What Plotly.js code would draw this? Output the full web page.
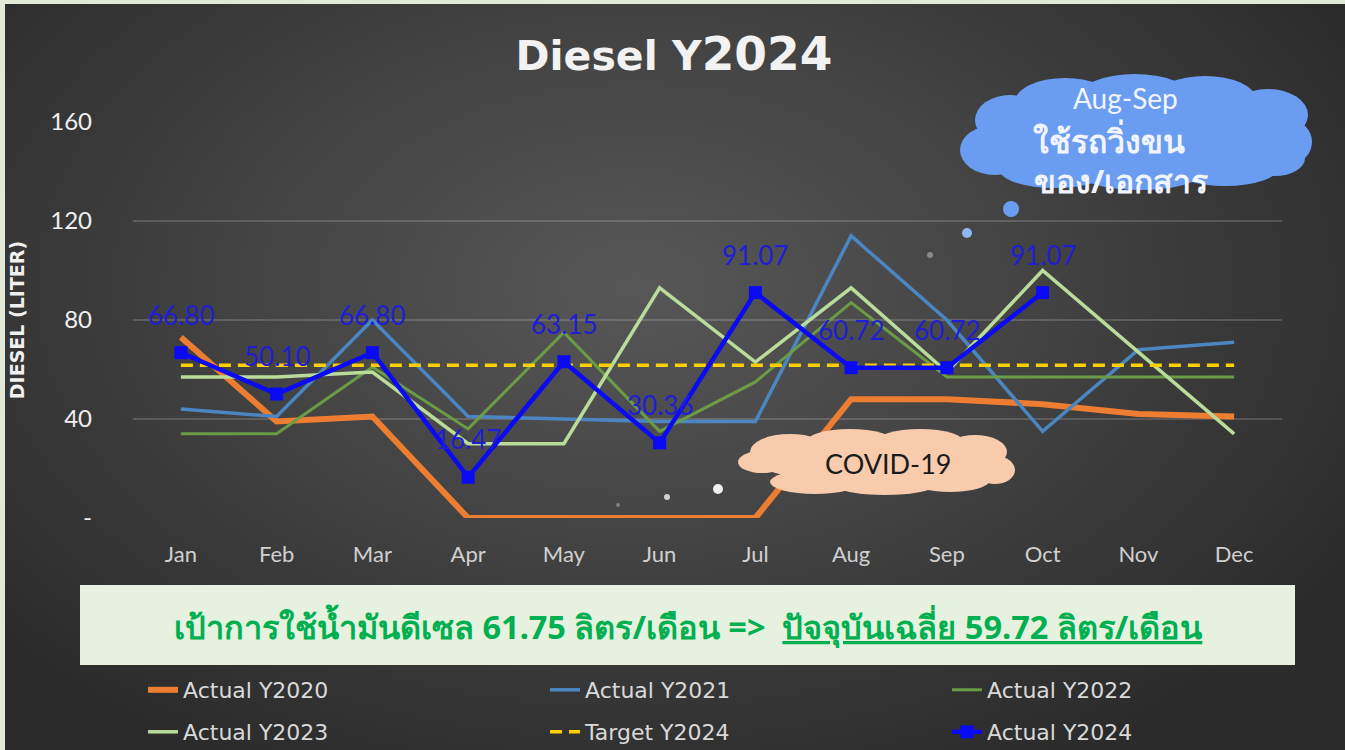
<!DOCTYPE html>
<html><head><meta charset="utf-8">
<script src="https://cdn.plot.ly/plotly-3.0.1.min.js"></script>
<style>
html,body{margin:0;padding:0;width:1345px;height:750px;overflow:hidden;background:#e3e9d7;}
#bg{position:absolute;left:5px;top:4px;width:1340px;height:746px;background:radial-gradient(ellipse 62% 72% at 47% 38%, #575757 0%, #444444 45%, #2b2b2b 100%);}
#chart{position:absolute;left:0;top:0;width:1345px;height:750px;}
</style></head><body><div id="bg"></div><div id="chart"></div>
<script>
const months = ['Jan','Feb','Mar','Apr','May','Jun','Jul','Aug','Sep','Oct','Nov','Dec'];
const actual2020 = [73, 39, 41, 0, 0, 0, 0, 48, 48, 46, 42, 41];
const actual2021 = [44, 41, 80, 41, 40, 39, 39, 114, 80, 35, 68, 71];
const actual2022 = [34, 34, 61, 36, 75, 35, 55, 87, 57, 57, 57, 57];
const actual2023 = [57, 57, 59, 30, 30, 93, 63, 93, 59, 100, 67, 34];
const target2024 = [61.75, 61.75, 61.75, 61.75, 61.75, 61.75, 61.75, 61.75, 61.75, 61.75, 61.75, 61.75];
const actual2024 = [66.80, 50.10, 66.80, 16.47, 63.15, 30.36, 91.07, 60.72, 60.72, 91.07, null, null];
const yTickVals = [0, 40, 80, 120, 160];
const yTickText = ['-', '40', '80', '120', '160'];

const L = 133, R = 1282, T = 122, B = 518, W = 1345, H = 750;
const px = X => (X - L) / (R - L);
const py = Y => (B - Y) / (B - T);

const legFont = {family: 'DejaVu Sans', size: 22, color: '#d9d9d9'};
const traces = [
  {name: 'Actual Y2020', x: months, y: actual2020, mode: 'lines', line: {color: '#ed7d31', width: 6}, legend: 'legend'},
  {name: 'Actual Y2021', x: months, y: actual2021, mode: 'lines', line: {color: '#4a86c2', width: 3.5}, legend: 'legend'},
  {name: 'Actual Y2022', x: months, y: actual2022, mode: 'lines', line: {color: '#6a9c45', width: 3}, legend: 'legend', legendwidth: 170},
  {name: 'Actual Y2023', x: months, y: actual2023, mode: 'lines', line: {color: '#b9dc9a', width: 3.5}, legend: 'legend2'},
  {name: 'Target Y2024', x: months, y: target2024, mode: 'lines', line: {color: '#ffd000', width: 3.5, dash: '12px,7px'}, legend: 'legend2'},
  {name: 'Actual Y2024', x: months, y: actual2024, mode: 'lines+markers', line: {color: '#0a0af5', width: 4.5},
   marker: {symbol: 'square', size: 13, color: '#0a0af5'}, legend: 'legend2', legendwidth: 170}
];

const shapes = [];
function ell(cx, cy, rx, ry, color) {
  shapes.push({type: 'circle', xref: 'paper', yref: 'paper', layer: 'above',
    x0: px(cx - rx), x1: px(cx + rx), y0: py(cy + ry), y1: py(cy - ry),
    fillcolor: color, line: {width: 0}});
}
// banner
shapes.push({type: 'rect', xref: 'paper', yref: 'paper', layer: 'above',
  x0: px(80), x1: px(1295), y0: py(665), y1: py(585), fillcolor: '#e6f2df', line: {width: 0}});
// blue cloud
const bc = '#6a9df2';
[[1136,140,165,38],[1010,120,35,25],[1065,102,50,24],[1135,96,55,22],[1205,98,50,22],[1268,115,40,26],
 [1290,142,22,22],[995,150,35,25],[1055,170,55,18],[1140,174,60,16],[1225,166,55,20],[1275,158,30,18]]
 .forEach(e => ell(e[0], e[1], e[2], e[3], bc));
ell(1011, 209, 8, 8, bc);
ell(967, 233, 5, 5, '#8fb5f0');
ell(930, 255, 3, 3, '#8a8a8a');
// covid cloud
const cc = '#f8cbad';
[[878,462,118,22],[790,452,40,18],[850,443,45,14],[920,443,45,14],[975,452,32,17],[995,470,20,14],
 [762,462,24,11],[815,482,45,12],[885,485,50,10],[950,480,40,12]]
 .forEach(e => ell(e[0], e[1], e[2], e[3], cc));
ell(718, 489, 5, 5, '#f0f0f0');
ell(667, 497, 3, 3, '#d0d0d0');
ell(618, 505, 2, 2, '#808080');

const annotations = [];
actual2024.forEach((v, i) => {
  if (v === null) return;
  annotations.push({x: months[i], y: v, xref: 'x', yref: 'y', text: v.toFixed(2), showarrow: false,
    xanchor: 'center', yshift: 38, yanchor: 'middle', font: {family: 'Lato', size: 26, color: '#1e1ed2'}});
});
function note(X, Y, text, font) {
  annotations.push({xref: 'paper', yref: 'paper', x: px(X), y: py(Y), xanchor: 'center', yanchor: 'middle',
    text: text, showarrow: false, font: font});
}
note(1125, 98, 'Aug-Sep', {family: 'Lato', size: 28, color: '#f2f5ff'});
note(1109, 140, 'ใช้รถวิ่งขน', {family: 'Noto Sans', size: 32, color: '#f2f5ff', weight: 'bold'});
note(1121, 180, 'ของ/เอกสาร', {family: 'Noto Sans', size: 32, color: '#f2f5ff', weight: 'bold'});
note(888, 463, 'COVID-19', {family: 'Lato', size: 27, color: '#1a1a1a'});
note(688, 626, 'เป้าการใช้น้ำมันดีเซล 61.75 ลิตร/เดือน =>  <u>ปัจจุบันเฉลี่ย 59.72 ลิตร/เดือน</u>',
  {family: 'Noto Sans', size: 32.5, color: '#00b050', weight: 'bold'});

const layout = {
  width: W, height: H,
  paper_bgcolor: 'rgba(0,0,0,0)', plot_bgcolor: 'rgba(0,0,0,0)',
  margin: {l: L, r: W - R, t: T, b: H - B, pad: 0, autoexpand: false},
  title: {text: 'Diesel Y<span style="font-size:47px">2024</span>', xref: 'container', x: 674 / W, xanchor: 'center',
    yref: 'container', y: 1 - 56 / H, yanchor: 'middle',
    font: {family: 'DejaVu Sans', size: 41, color: '#f2f2f2', weight: 'bold'}},
  xaxis: {type: 'category', range: [-0.5, 11.5], showgrid: false, zeroline: false, showline: false, ticks: '',
    tickfont: {family: 'Lato', size: 22, color: '#d0d0d0'}, ticklabelstandoff: 21, fixedrange: true},
  yaxis: {range: [0, 160], tickvals: yTickVals, ticktext: yTickText, showgrid: true,
    gridcolor: 'rgba(255,255,255,0.16)', gridwidth: 1.5, zeroline: false, showline: false, ticks: '',
    tickfont: {family: 'Lato', size: 24, color: '#f0f0f0'}, ticklabelstandoff: 40,
    title: {text: 'DIESEL (LITER)', font: {family: 'DejaVu Sans', size: 19, color: '#f0f0f0', weight: 'bold'}, standoff: 20}},
  showlegend: true,
  legend: {orientation: 'h', x: px(143), xanchor: 'left', y: py(690), yanchor: 'middle',
    entrywidth: 357, entrywidthmode: 'pixels', font: legFont, bgcolor: 'rgba(0,0,0,0)'},
  legend2: {orientation: 'h', x: px(143), xanchor: 'left', y: py(732), yanchor: 'middle',
    entrywidth: 357, entrywidthmode: 'pixels', font: legFont, bgcolor: 'rgba(0,0,0,0)'},
  shapes: shapes,
  annotations: annotations
};
Plotly.newPlot('chart', traces, layout, {displayModeBar: false, staticPlot: true});
</script></body></html>
